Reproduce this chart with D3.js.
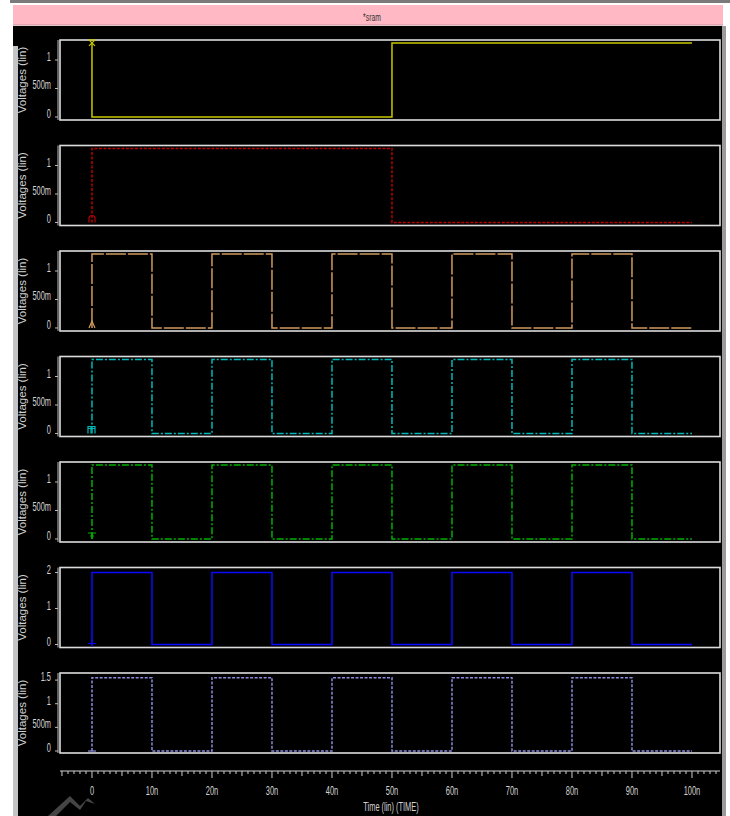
<!DOCTYPE html>
<html>
<head>
<meta charset="utf-8">
<script src="https://cdn.jsdelivr.net/npm/d3@7"></script>
<style>
  html, body { margin: 0; padding: 0; background: #fff; }
  svg text { font-family: "Liberation Sans", Arial, sans-serif; }
</style>
</head>
<body>
<div id="chart"></div>
<script>
// time in ns, values in volts
const titleText = '*sram';
const yLabel = 'Voltages (lin)';
const xLabel = 'Time (lin) (TIME)';

const xTicks = [0, 10, 20, 30, 40, 50, 60, 70, 80, 90, 100];
const xTickLabels = ['0', '10n', '20n', '30n', '40n', '50n', '60n', '70n', '80n', '90n', '100n'];

const stepTimes = [0, 0, 50, 50, 100];
const yellowValues = [1.3, 0, 0, 1.3, 1.3];
const redValues = [0, 1.3, 1.3, 0, 0];

const clockTimes = [0, 0, 10, 10, 20, 20, 30, 30, 40, 40, 50, 50, 60, 60, 70, 70, 80, 80, 90, 90, 100];
const orangeValues = [0, 1.3, 1.3, 0, 0, 1.3, 1.3, 0, 0, 1.3, 1.3, 0, 0, 1.3, 1.3, 0, 0, 1.3, 1.3, 0, 0];
const cyanValues = [0, 1.3, 1.3, 0, 0, 1.3, 1.3, 0, 0, 1.3, 1.3, 0, 0, 1.3, 1.3, 0, 0, 1.3, 1.3, 0, 0];
const greenValues = [0, 1.3, 1.3, 0, 0, 1.3, 1.3, 0, 0, 1.3, 1.3, 0, 0, 1.3, 1.3, 0, 0, 1.3, 1.3, 0, 0];
const blueValues = [0, 2, 2, 0, 0, 2, 2, 0, 0, 2, 2, 0, 0, 2, 2, 0, 0, 2, 2, 0, 0];
const purpleValues = [0, 1.55, 1.55, 0, 0, 1.55, 1.55, 0, 0, 1.55, 1.55, 0, 0, 1.55, 1.55, 0, 0, 1.55, 1.55, 0, 0];

const lowTicks = [0, 0.5, 1];
const lowTickLabels = ['0', '500m', '1'];
const blueTicks = [0, 1, 2];
const blueTickLabels = ['0', '1', '2'];
const purpleTicks = [0, 0.5, 1, 1.5];
const purpleTickLabels = ['0', '500m', '1', '1.5'];

const panels = [
  { t: stepTimes, v: yellowValues, color: '#c8c800', dash: null, domain: [-0.053, 1.351], ticks: lowTicks, labels: lowTickLabels, marker: 'x', markerAt: 1.3 },
  { t: stepTimes, v: redValues, color: '#b80000', dash: '3,1.5', domain: [-0.053, 1.351], ticks: lowTicks, labels: lowTickLabels, marker: 'arch', markerAt: 0 },
  { t: clockTimes, v: orangeValues, color: '#d09a5c', dash: '20,2', domain: [-0.053, 1.351], ticks: lowTicks, labels: lowTickLabels, marker: 'caret', markerAt: 0 },
  { t: clockTimes, v: cyanValues, color: '#00b8b8', dash: '7,2,2,2', domain: [-0.053, 1.351], ticks: lowTicks, labels: lowTickLabels, marker: 'box', markerAt: 0 },
  { t: clockTimes, v: greenValues, color: '#00b000', dash: '7,2,2,2', domain: [-0.053, 1.351], ticks: lowTicks, labels: lowTickLabels, marker: 'tee', markerAt: 0 },
  { t: clockTimes, v: blueValues, color: '#0a0aff', dash: null, domain: [-0.083, 2.14], ticks: blueTicks, labels: blueTickLabels, marker: 'plus', markerAt: 0 },
  { t: clockTimes, v: purpleValues, color: '#8c8cdc', dash: '3,1.5', domain: [-0.042, 1.65], ticks: purpleTicks, labels: purpleTickLabels, marker: 'bar', markerAt: 0 },
];

const width = 730;
const height = 816;
const plotLeft = 60;
const plotRight = 720;
const panelTop0 = 40;
const panelStep = 105.5;
const panelHeight = 80;
const axisY = 771;
const squeeze = 0.62;

const svg = d3.select('#chart').append('svg')
  .attr('width', width)
  .attr('height', height)
  .attr('viewBox', [0, 0, width, height].join(' '));

// condensed look of the viewer font: squeeze text horizontally
function narrowText(parent, tx, ty, anchor, size, fill, str) {
  return parent.append('text')
    .attr('transform', `translate(${tx},${ty}) scale(${squeeze},1)`)
    .attr('text-anchor', anchor)
    .attr('font-size', size)
    .attr('fill', fill)
    .text(str);
}

// window chrome
svg.append('rect').attr('x', 0).attr('y', 0).attr('width', width).attr('height', height).attr('fill', '#ffffff');
svg.append('rect').attr('x', 10).attr('y', 0).attr('width', 720).attr('height', 3).attr('fill', '#7a7a7a');
svg.append('rect').attr('x', 13).attr('y', 5).attr('width', 710).attr('height', 20).attr('fill', '#ffb8c4');
svg.append('line').attr('x1', 13).attr('x2', 723).attr('y1', 25).attr('y2', 25).attr('stroke', '#c89098');
svg.append('rect').attr('x', 13).attr('y', 26).attr('width', 709).attr('height', height - 26).attr('fill', '#000');
svg.append('rect').attr('x', 13).attr('y', 46).attr('width', 5).attr('height', height - 46).attr('fill', '#c4c4c4');
svg.append('rect').attr('x', 722).attr('y', 26).attr('width', 4).attr('height', height - 26).attr('fill', '#9a9a9a');

narrowText(svg, 372, 21, 'middle', 11, '#333', titleText);

const x = d3.scaleLinear().domain([-5.33, 104.67]).range([plotLeft, plotRight]);

function drawMarker(g, kind, cx, cy, color) {
  const m = g.append('path').attr('fill', 'none').attr('stroke', color).attr('stroke-width', 1.2);
  if (kind === 'x') m.attr('d', `M${cx - 3},${cy - 3} L${cx + 3},${cy + 3} M${cx + 3},${cy - 3} L${cx - 3},${cy + 3} M${cx - 3},${cy - 3} L${cx + 3},${cy - 3}`);
  if (kind === 'arch') m.attr('d', `M${cx - 3},${cy} L${cx - 3},${cy - 4} A3,3 0 0 1 ${cx + 3},${cy - 4} L${cx + 3},${cy}`);
  if (kind === 'caret') m.attr('d', `M${cx - 3},${cy} L${cx},${cy - 7} L${cx + 3},${cy}`);
  if (kind === 'box') m.attr('d', `M${cx - 4},${cy} L${cx - 4},${cy - 7} L${cx + 3},${cy - 7} L${cx + 3},${cy} M${cx - 1},${cy - 7} L${cx - 1},${cy} M${cx - 4},${cy - 5} L${cx + 3},${cy - 5}`);
  if (kind === 'tee') m.attr('d', `M${cx - 4},${cy - 6} L${cx + 4},${cy - 6} M${cx},${cy - 6} L${cx},${cy} M${cx - 2},${cy - 3} L${cx + 2},${cy - 3}`);
  if (kind === 'plus') m.attr('d', `M${cx - 4},${cy - 1} L${cx + 4},${cy - 1} M${cx},${cy - 5} L${cx},${cy + 2}`);
  if (kind === 'bar') m.attr('d', `M${cx - 4},${cy} L${cx + 4},${cy}`);
}

panels.forEach((p, i) => {
  const top = panelTop0 + i * panelStep;
  const y = d3.scaleLinear().domain(p.domain).range([top + panelHeight, top]);
  const g = svg.append('g').attr('class', 'panel');

  // left axis
  g.append('line')
    .attr('x1', 58).attr('x2', 58)
    .attr('y1', top).attr('y2', top + panelHeight)
    .attr('stroke', '#bdbdbd').attr('stroke-width', 1);
  p.ticks.forEach((tv, k) => {
    g.append('line')
      .attr('x1', 55).attr('x2', 58)
      .attr('y1', y(tv)).attr('y2', y(tv))
      .attr('stroke', '#bdbdbd');
    narrowText(g, 51, y(tv) + 1, 'end', 12, '#d4d4d4', p.labels[k]);
  });

  g.append('text')
    .attr('transform', `translate(26, ${top + panelHeight / 2}) rotate(-90)`)
    .attr('text-anchor', 'middle')
    .attr('font-size', 11.5)
    .attr('fill', '#cfcfcf')
    .text(yLabel);

  // plot frame
  g.append('rect')
    .attr('x', plotLeft).attr('y', top)
    .attr('width', plotRight - plotLeft).attr('height', panelHeight)
    .attr('fill', '#000')
    .attr('stroke', '#dcdcdc').attr('stroke-width', 1.6);

  const pts = p.t.map((t, k) => [t, p.v[k]]);
  g.append('path')
    .datum(pts)
    .attr('fill', 'none')
    .attr('stroke', p.color)
    .attr('stroke-width', 1.5)
    .attr('stroke-dasharray', p.dash)
    .attr('d', d3.line().x((d) => x(d[0])).y((d) => y(d[1])));

  drawMarker(g, p.marker, x(0), y(p.markerAt), p.color);
});

// time axis
const ax = svg.append('g').attr('class', 'time-axis');
ax.append('line')
  .attr('x1', plotLeft).attr('x2', plotRight)
  .attr('y1', axisY).attr('y2', axisY)
  .attr('stroke', '#cfcfcf');
ax.selectAll('line.minor')
  .data(d3.range(-5, 105, 1))
  .join('line')
  .attr('class', 'minor')
  .attr('x1', (d) => x(d)).attr('x2', (d) => x(d))
  .attr('y1', axisY)
  .attr('y2', (d) => axisY + (d % 10 === 0 ? 7 : d % 5 === 0 ? 5 : 3))
  .attr('stroke', '#cfcfcf');
xTicks.forEach((d, k) => {
  narrowText(ax, x(d), 795, 'middle', 12, '#d4d4d4', xTickLabels[k]);
});
narrowText(ax, 391, 811, 'middle', 12, '#d4d4d4', xLabel);

// faint watermark stroke bottom-left
svg.append('path')
  .attr('d', 'M48,816 L70,796 L80,806 L88,798 L95,804 L86,801 L80,810 L70,802 L56,816 Z')
  .attr('fill', '#8a8a8a')
  .attr('opacity', 0.5);
</script>
</body>
</html>
